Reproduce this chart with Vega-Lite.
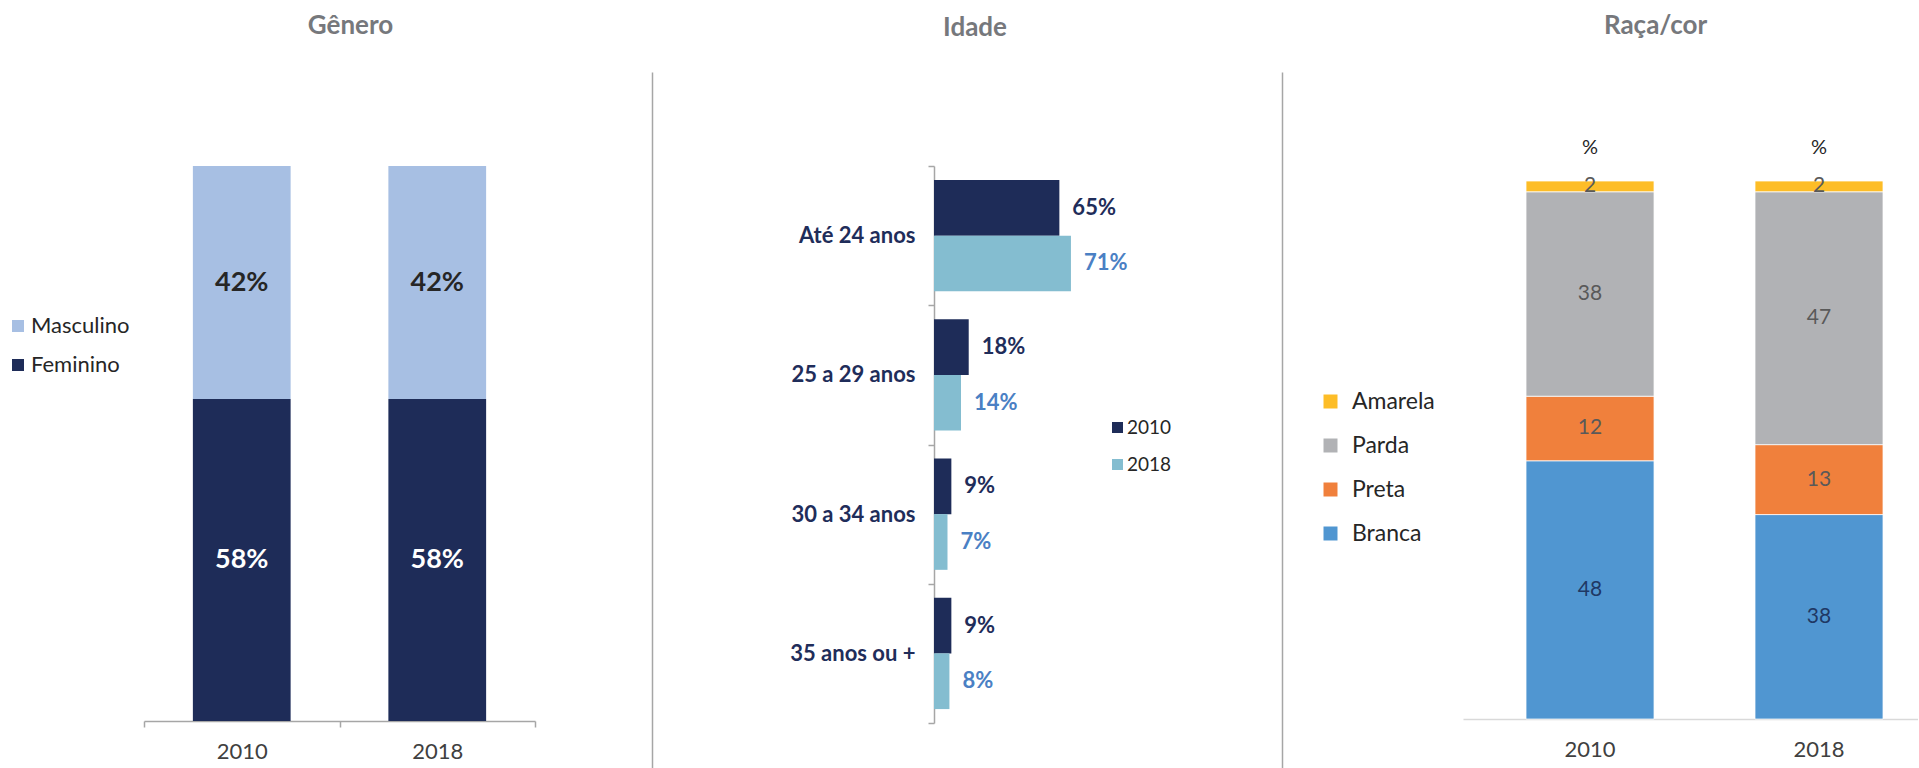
{
  "$schema": "https://vega.github.io/schema/vega-lite/v6.json",
  "autosize": {"type": "pad"},
  "padding": {"left": 7, "top": 13, "right": 0, "bottom": 0},
  "background": "white",
  "config": {
    "view": {"stroke": null},
    "font": "Lato",
    "axis": {"grid": false},
    "legend": {"padding": 0},
    "title": {"fontSize": 26, "fontWeight": "bold", "color": "#76787c", "font": "Lato", "anchor": "middle", "baseline": "bottom"}
  },
  "resolve": {"scale": {"color": "independent"}, "legend": {"color": "independent"}},
  "datasets": {
    "genero": [
      {"ano": "2010", "sexo": "Feminino", "pct": 58, "ord": 1},
      {"ano": "2010", "sexo": "Masculino", "pct": 42, "ord": 2},
      {"ano": "2018", "sexo": "Feminino", "pct": 58, "ord": 1},
      {"ano": "2018", "sexo": "Masculino", "pct": 42, "ord": 2}
    ],
    "idade": [
      {"faixa": "Até 24 anos", "ano": "2010", "pct": 65},
      {"faixa": "Até 24 anos", "ano": "2018", "pct": 71},
      {"faixa": "25 a 29 anos", "ano": "2010", "pct": 18},
      {"faixa": "25 a 29 anos", "ano": "2018", "pct": 14},
      {"faixa": "30 a 34 anos", "ano": "2010", "pct": 9},
      {"faixa": "30 a 34 anos", "ano": "2018", "pct": 7},
      {"faixa": "35 anos ou +", "ano": "2010", "pct": 9},
      {"faixa": "35 anos ou +", "ano": "2018", "pct": 8}
    ],
    "raca": [
      {"ano": "2010", "cat": "Branca", "pct": 48, "ord": 1},
      {"ano": "2010", "cat": "Preta", "pct": 12, "ord": 2},
      {"ano": "2010", "cat": "Parda", "pct": 38, "ord": 3},
      {"ano": "2010", "cat": "Amarela", "pct": 2, "ord": 4},
      {"ano": "2018", "cat": "Branca", "pct": 38, "ord": 1},
      {"ano": "2018", "cat": "Preta", "pct": 13, "ord": 2},
      {"ano": "2018", "cat": "Parda", "pct": 47, "ord": 3},
      {"ano": "2018", "cat": "Amarela", "pct": 2, "ord": 4}
    ]
  },
  "bounds": "flush",
  "spacing": 0,
  "hconcat": [
    {
      "width": 391,
      "height": 697,
      "data": {"name": "genero"},
      "title": {"text": "Gênero", "dx": 11, "offset": 33},
      "transform": [
        {"stack": "pct", "groupby": ["ano"], "sort": [{"field": "ord"}], "as": ["y0", "y1"]},
        {"calculate": "(datum.y0 + datum.y1) / 2", "as": "mid"},
        {"calculate": "datum.pct + '%'", "as": "rotulo"}
      ],
      "layer": [
        {
          "mark": {"type": "bar", "width": {"band": 0.5}},
          "encoding": {
            "x": {
              "field": "ano", "type": "nominal",
              "scale": {"paddingInner": 0, "paddingOuter": 0},
              "axis": {"orient": "bottom", "offset": -48, "title": null, "labelAngle": 0, "labelFontSize": 22, "labelColor": "#404040", "labelPadding": 14, "domainColor": "#a6a6a6", "domainWidth": 1.5, "tickColor": "#a6a6a6", "tickSize": 6, "tickWidth": 1.5, "tickBand": "extent"}
            },
            "y": {
              "field": "y1", "type": "quantitative",
              "scale": {"domain": [-8.65, 116.94], "nice": false, "zero": false},
              "axis": {"orient": "right", "offset": 117, "title": null, "labels": false, "ticks": false, "domainColor": "#a6a6a6", "domainWidth": 1.5}
            },
            "y2": {"field": "y0"},
            "color": {
              "field": "sexo", "type": "nominal",
              "scale": {"domain": ["Masculino", "Feminino"], "range": ["#a7bfe3", "#1e2c58"]},
              "legend": {"orient": "none", "legendX": -137, "legendY": 243, "title": null, "symbolType": "square", "symbolSize": 144, "symbolStrokeWidth": 0, "labelFontSize": 22, "labelColor": "#262626", "rowPadding": 17, "labelOffset": 2}
            }
          }
        },
        {
          "mark": {"type": "text", "fontWeight": "bold", "fontSize": 27, "baseline": "middle"},
          "encoding": {
            "x": {"field": "ano", "type": "nominal"},
            "y": {"field": "mid", "type": "quantitative"},
            "text": {"field": "rotulo"},
            "color": {"condition": {"test": "datum.sexo === 'Feminino'", "value": "#ffffff"}, "value": "#262626"}
          }
        }
      ]
    },
    {
      "width": 399,
      "height": 697,
      "data": {"values": []},
      "mark": "point"
    },
    {
      "bounds": "flush",
      "spacing": 0,
      "vconcat": [
        {
          "width": 130,
          "height": 94,
          "data": {"values": []},
          "mark": "point"
        },
        {
          "width": 130,
          "height": 557,
          "data": {"name": "idade"},
          "title": {"text": "Idade", "dx": -24, "offset": 114},
          "transform": [
            {"calculate": "datum.pct + '%'", "as": "rotulo"}
          ],
          "layer": [
            {
              "mark": {"type": "bar"},
              "encoding": {
                "y": {
                  "field": "faixa", "type": "nominal",
                  "sort": ["Até 24 anos", "25 a 29 anos", "30 a 34 anos", "35 anos ou +"],
                  "scale": {"paddingInner": 0, "paddingOuter": 0},
                  "axis": {"title": null, "labelFontSize": 22, "labelFontWeight": "bold", "labelColor": "#1f2d5a", "tickBand": "extent", "tickSize": 6, "tickWidth": 1.5, "tickColor": "#a6a6a6", "domainColor": "#a6a6a6", "domainWidth": 1.5, "labelPadding": 13}
                },
                "yOffset": {"field": "ano", "type": "nominal", "sort": ["2010", "2018"], "scale": {"paddingInner": 0, "paddingOuter": 0.25}},
                "x": {"field": "pct", "type": "quantitative", "scale": {"domain": [0, 67.4], "nice": false}, "axis": null},
                "color": {
                  "field": "ano", "type": "nominal",
                  "scale": {"domain": ["2010", "2018"], "range": ["#1e2c58", "#84bdd0"]},
                  "legend": {"orient": "none", "legendX": 174, "legendY": 346, "title": null, "symbolType": "square", "symbolSize": 121, "symbolStrokeWidth": 0, "labelFontSize": 19, "labelColor": "#262626", "rowPadding": 17, "labelOffset": 0}
                }
              }
            },
            {
              "mark": {"type": "text", "align": "left", "baseline": "middle", "dx": 13, "fontWeight": "bold", "fontSize": 22},
              "encoding": {
                "y": {"field": "faixa", "type": "nominal", "sort": ["Até 24 anos", "25 a 29 anos", "30 a 34 anos", "35 anos ou +"]},
                "yOffset": {"field": "ano", "type": "nominal", "sort": ["2010", "2018"]},
                "x": {"field": "pct", "type": "quantitative"},
                "text": {"field": "rotulo"},
                "color": {"condition": {"test": "datum.ano === '2010'", "value": "#1f2d5a"}, "value": "#4a80c4"}
              }
            }
          ]
        }
      ]
    },
    {
      "width": 529,
      "height": 697,
      "data": {"values": []},
      "mark": "point"
    },
    {
      "width": 455,
      "height": 697,
      "data": {"name": "raca"},
      "title": {"text": "Raça/cor", "dx": -35, "offset": 33},
      "transform": [
        {"stack": "pct", "groupby": ["ano"], "sort": [{"field": "ord"}], "as": ["y0", "y1"]},
        {"calculate": "(datum.y0 + datum.y1) / 2", "as": "mid"}
      ],
      "layer": [
        {
          "mark": {"type": "bar", "stroke": "white", "strokeWidth": 0.75},
          "encoding": {
            "x": {
              "field": "ano", "type": "nominal",
              "scale": {"paddingInner": 0.441, "paddingOuter": 0.214, "align": 0.643},
              "axis": {"orient": "bottom", "offset": -50, "title": null, "labelAngle": 0, "labelFontSize": 22, "labelColor": "#404040", "labelPadding": 20, "domainColor": "#d9d9d9", "domainWidth": 1.5, "ticks": false}
            },
            "y": {
              "field": "y1", "type": "quantitative",
              "scale": {"domain": [-9.29, 120.26], "nice": false, "zero": false},
              "axis": {"orient": "left", "offset": 181, "title": null, "labels": false, "ticks": false, "domainColor": "#a6a6a6", "domainWidth": 1.5}
            },
            "y2": {"field": "y0"},
            "color": {
              "field": "cat", "type": "nominal",
              "scale": {"domain": ["Amarela", "Parda", "Preta", "Branca"], "range": ["#fdbd27", "#b1b2b5", "#f0803c", "#5096d1"]},
              "legend": {"orient": "none", "legendX": -144, "legendY": 318, "title": null, "symbolType": "square", "symbolSize": 196, "symbolStrokeWidth": 0, "labelFontSize": 23, "labelColor": "#262626", "rowPadding": 20, "labelOffset": 10}
            }
          }
        },
        {
          "mark": {"type": "text", "fontSize": 21, "baseline": "middle"},
          "encoding": {
            "x": {"field": "ano", "type": "nominal"},
            "y": {"field": "mid", "type": "quantitative"},
            "text": {"field": "pct"},
            "color": {"condition": {"test": "datum.cat === 'Branca'", "value": "#1f3864"}, "value": "#595959"}
          }
        },
        {
          "transform": [{"filter": "datum.cat === 'Amarela'"}],
          "mark": {"type": "text", "fontSize": 20, "baseline": "middle", "dy": -33, "color": "#262626"},
          "encoding": {
            "x": {"field": "ano", "type": "nominal"},
            "y": {"field": "y1", "type": "quantitative"},
            "text": {"value": "%"}
          }
        }
      ]
    }
  ]
}
